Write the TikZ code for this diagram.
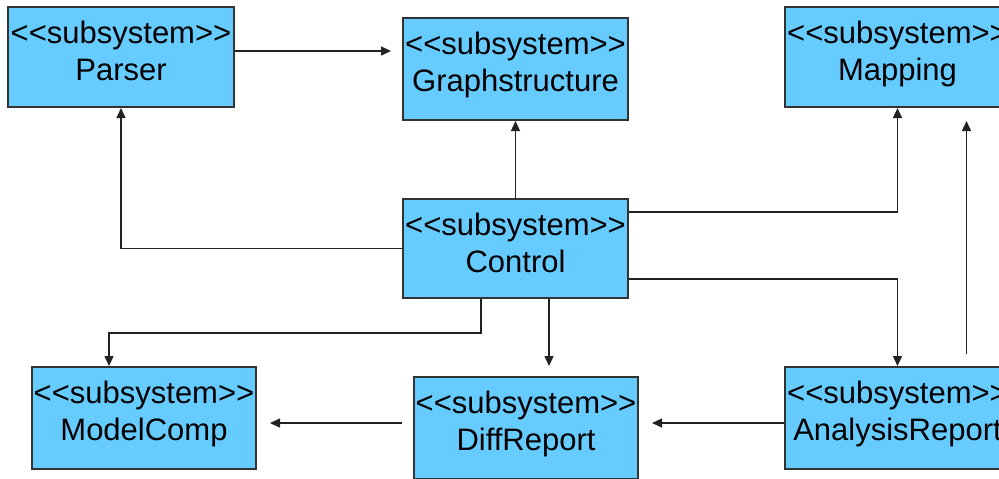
\documentclass[tikz,border=0pt]{standalone}
\usepackage{fontspec}
\setmainfont{Liberation Sans}[Ligatures=TeXOff]
\usetikzlibrary{arrows.meta,calc}
\definecolor{boxfill}{HTML}{66CCFF}
\definecolor{edge}{HTML}{333333}
\definecolor{wire}{HTML}{222222}
\newcommand{\stereo}{<\kern0pt<subsystem>\kern0pt>}
\tikzset{
  box/.style={draw=edge,line width=1pt,fill=boxfill,rectangle,inner sep=0pt,minimum width=#1},
  box/.default=112.5pt,
  txt/.style={anchor=north,inner sep=0pt,align=center,font=\fontsize{15.5pt}{18.5pt}\selectfont},
  arr/.style={draw=wire,line width=0.7pt,-{Triangle[length=5pt,width=4.5pt]}},
  ln/.style={draw=wire,line width=0.7pt}
}
\begin{document}
\begin{tikzpicture}[x=0.5pt,y=-0.5pt]
\useasboundingbox (0,0) rectangle (999,478);
\clip (0,0) rectangle (999,478);
% boxes
\node[box=113pt,minimum height=50pt] (parser) at (121,57) {};
\node[box,minimum height=51pt] (graph) at (515.5,69) {};
\node[box,minimum height=50pt] (mapping) at (897.5,57) {};
\node[box,minimum height=49.5pt] (control) at (515.5,248.5) {};
\node[box=112pt,minimum height=51pt] (modelcomp) at (144,418) {};
\node[box=112pt,minimum height=51pt] (diff) at (526,428) {};
\node[box,minimum height=51pt] (analysis) at (897.5,418) {};
% texts
\node[txt] (parserT) at ($(parser.north)+(0,15)$) {\stereo\\Parser};
\node[txt] (graphT) at ($(graph.north)+(0,15)$) {\stereo\\Graphstructure};
\node[txt] (mappingT) at ($(mapping.north)+(0,15)$) {\stereo\\Mapping};
\node[txt] (controlT) at ($(control.north)+(0,15)$) {\stereo\\Control};
\node[txt] (modelcompT) at ($(modelcomp.north)+(0,15)$) {\stereo\\ModelComp};
\node[txt] (diffT) at ($(diff.north)+(0,15)$) {\stereo\\DiffReport};
\node[txt] (analysisT) at ($(analysis.north)+(0,15)$) {\stereo\\AnalysisReport};
% connector end points
\coordinate (p1) at ($(parser.east)+(0,-6)$);
\coordinate (g1) at ($(graph.west)+(-11,0)$);
\coordinate (c6) at ($(control.south west)+(79,0)$);
\coordinate (m6) at ($(modelcomp.north west)+(78,0)$);
\coordinate (d7) at ($(diff.north)+(23,-10)$);
\coordinate (a8) at ($(analysis.north)+(69,-12)$);
\coordinate (m8) at ($(mapping.south)+(69,13)$);
\coordinate (a9) at ($(analysis.west)+(0,5)$);
\coordinate (d9) at ($(diff.east)+(13,0)$);
\coordinate (d10) at ($(diff.west)+(-11,-5)$);
\coordinate (m10) at ($(modelcomp.east)+(13,0)$);
% connectors
\draw[arr] (p1) -- (p1 -| g1);
\draw[arr] (control.north) -- (graph.south);
\draw[arr] (control.west) -| (parser.south);
\draw[arr] ($(control.north east)+(0,14)$) -| (mapping.south);
\draw[arr] ($(control.south east)+(0,-20)$) -| (analysis.north);
\draw[arr] (c6) -- ++(0,34) -| (m6);
\draw[arr] (d7 |- control.south) -- (d7);
\draw[arr] (a8) -- (m8);
\draw[arr] (a9) -- (a9 -| d9);
\draw[arr] (d10) -- (d10 -| m10);
\end{tikzpicture}
\end{document}
